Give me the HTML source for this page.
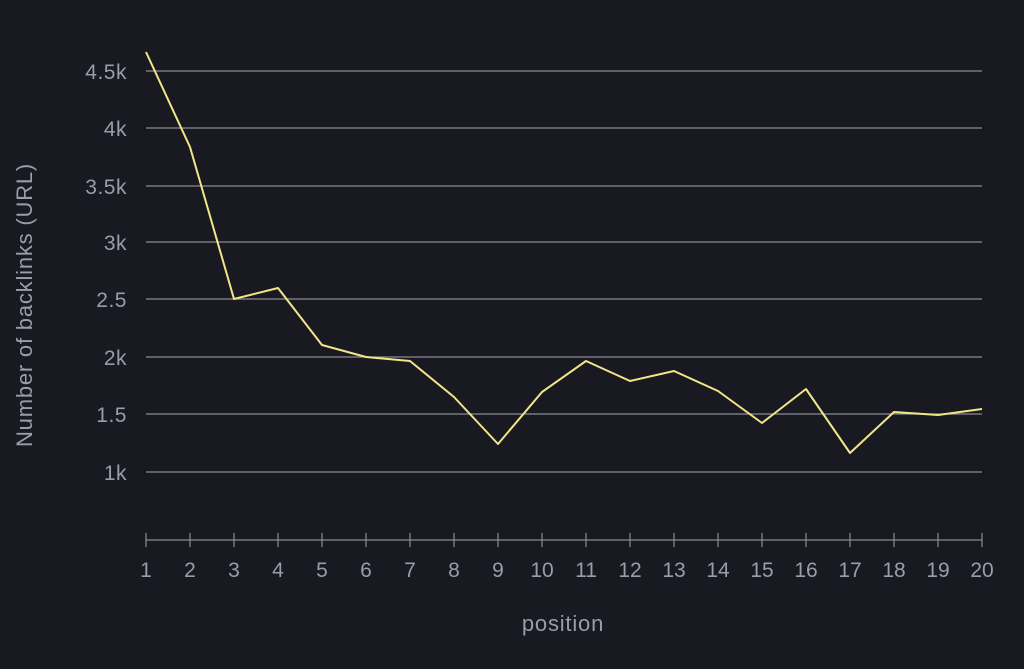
<!DOCTYPE html>
<html><head><meta charset="utf-8"><style>
html,body{margin:0;padding:0;background:#191a21;}
svg{display:block;font-family:"Liberation Sans",sans-serif;}
</style></head><body>
<svg width="1024" height="669" viewBox="0 0 1024 669">
<rect width="1024" height="669" fill="#191a21"/>
<g stroke="#8a8c94" stroke-width="1.2">
<line x1="146" x2="982" y1="71" y2="71"/>
<line x1="146" x2="982" y1="128" y2="128"/>
<line x1="146" x2="982" y1="186" y2="186"/>
<line x1="146" x2="982" y1="242" y2="242"/>
<line x1="146" x2="982" y1="299" y2="299"/>
<line x1="146" x2="982" y1="357" y2="357"/>
<line x1="146" x2="982" y1="414" y2="414"/>
<line x1="146" x2="982" y1="472" y2="472"/>
<line x1="146" x2="982" y1="540" y2="540"/>
</g>
<g stroke="#8a8c94" stroke-width="1.2" id="ticks"></g>
<g fill="#9a9ca6" font-size="21" text-anchor="end" letter-spacing="0.5">
<text x="127" y="79">4.5k</text>
<text x="127" y="136">4k</text>
<text x="127" y="194">3.5k</text>
<text x="127" y="250">3k</text>
<text x="127" y="307">2.5</text>
<text x="127" y="365">2k</text>
<text x="127" y="422">1.5</text>
<text x="127" y="480">1k</text>
</g>
<g fill="#9a9ca6" font-size="21" text-anchor="middle" id="xl"></g>
<text x="563" y="631" fill="#9a9ca6" font-size="22" text-anchor="middle" letter-spacing="0.8">position</text>
<text transform="translate(32,305) rotate(-90)" fill="#9a9ca6" font-size="22" text-anchor="middle" letter-spacing="0.8">Number of backlinks (URL)</text>
<polyline fill="none" stroke="#f2e68a" stroke-width="2" stroke-linejoin="round" points="146,52 190,147 234,299 278,288 322,345 366,357 410,361 454,397 498,444 542,392 586,361 630,381 674,371 718,391 762,423 806,389 850,453 894,412 938,415 982,409"/>
<script>
var t=document.getElementById('ticks'),l=document.getElementById('xl'),ns='http://www.w3.org/2000/svg';
for(var i=1;i<=20;i++){var x=146+(i-1)*44;
var a=document.createElementNS(ns,'line');a.setAttribute('x1',x);a.setAttribute('x2',x);a.setAttribute('y1',533);a.setAttribute('y2',547);t.appendChild(a);
var s=document.createElementNS(ns,'text');s.setAttribute('x',x);s.setAttribute('y',577);s.textContent=i;l.appendChild(s);}
</script>
</svg>
</body></html>
